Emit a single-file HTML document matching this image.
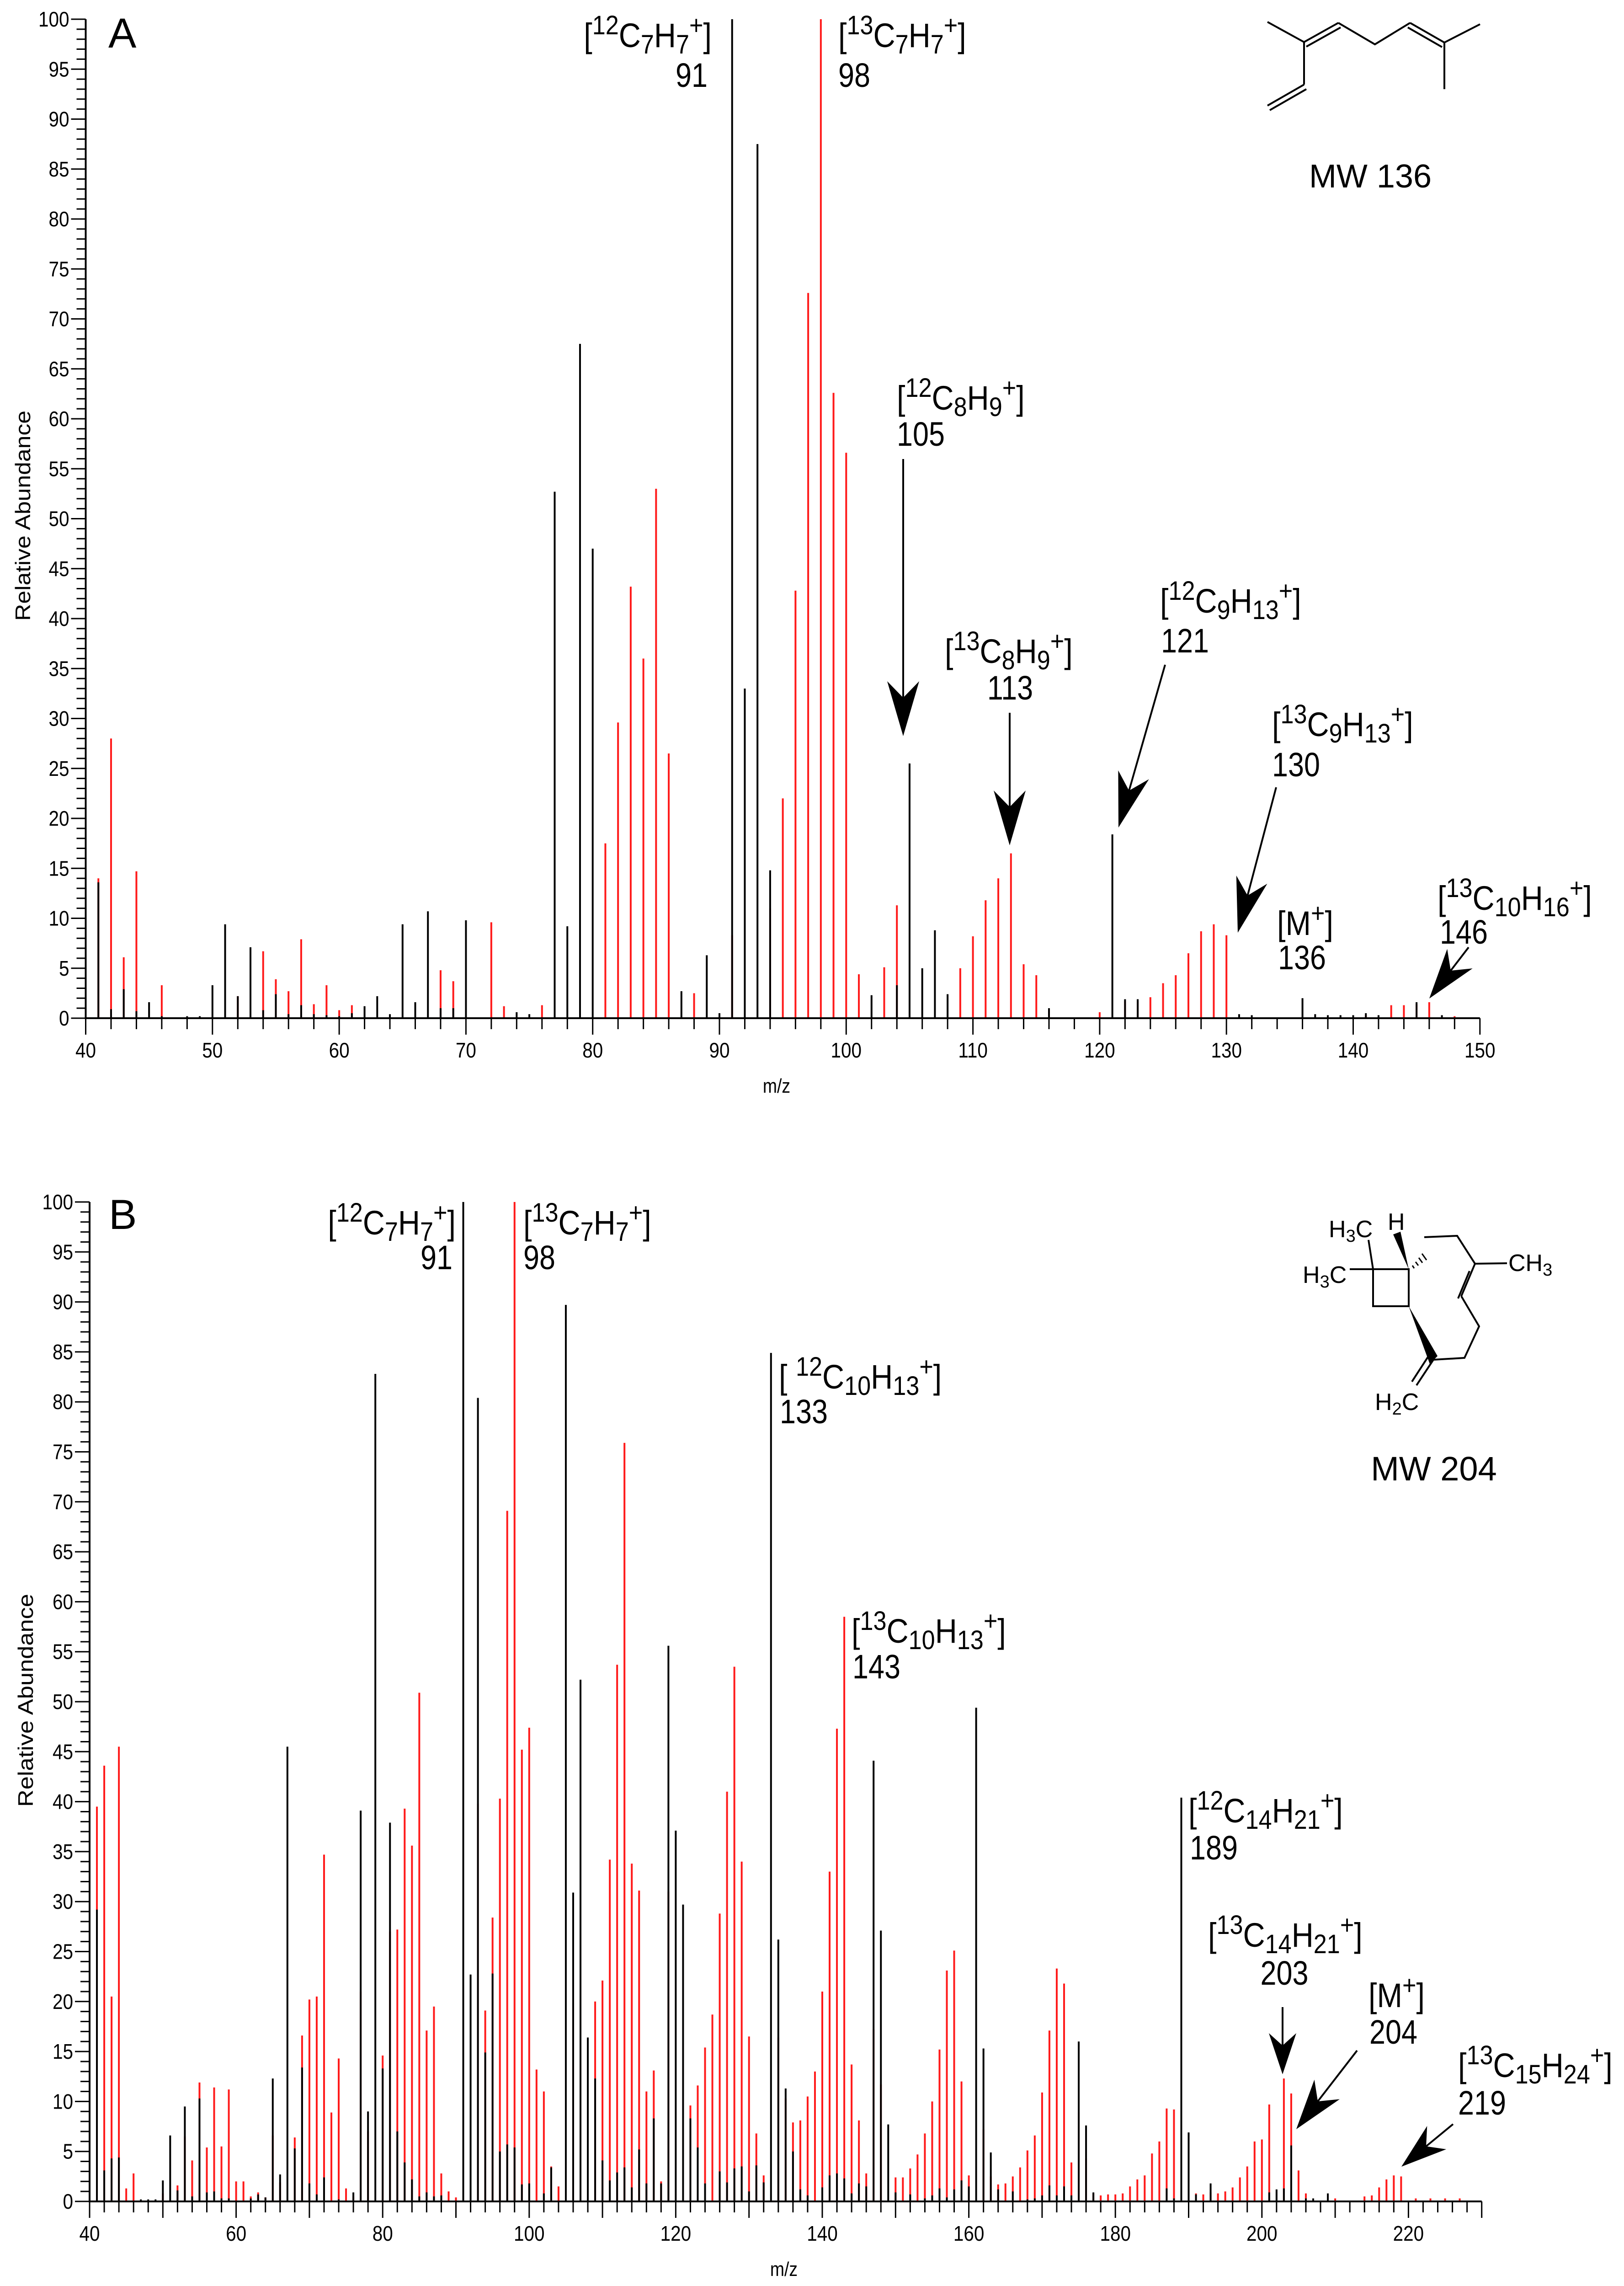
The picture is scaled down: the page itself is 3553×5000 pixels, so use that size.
<!DOCTYPE html>
<html><head><meta charset="utf-8">
<style>
html,body{margin:0;padding:0;background:#fff;}
svg{display:block;}
text{font-family:"Liberation Sans",Arial,sans-serif;fill:#000;}
</style></head>
<body>
<svg id="chart" xmlns="http://www.w3.org/2000/svg" width="3553" height="5000" viewBox="0 0 3553 5000">
<rect x="0" y="0" width="3553" height="5000" fill="#fff"/>
<g id="barsA"></g>
<g id="barsB"></g>
<g id="axes"></g>

<text x="237" y="104" font-size="92">A</text>
<text x="238" y="2688" font-size="92">B</text>

<g font-size="74">
<text transform="translate(1557,103) scale(0.9,1)" text-anchor="end">[<tspan font-size="58" dy="-28">12</tspan><tspan dy="28">C</tspan><tspan font-size="58" dy="14">7</tspan><tspan dy="-14">H</tspan><tspan font-size="58" dy="14">7</tspan><tspan font-size="58" dy="-42">+</tspan><tspan dy="28">]</tspan></text>
<text transform="translate(1548,190) scale(0.85,1)" text-anchor="end">91</text>
<text transform="translate(1834,103) scale(0.9,1)">[<tspan font-size="58" dy="-28">13</tspan><tspan dy="28">C</tspan><tspan font-size="58" dy="14">7</tspan><tspan dy="-14">H</tspan><tspan font-size="58" dy="14">7</tspan><tspan font-size="58" dy="-42">+</tspan><tspan dy="28">]</tspan></text>
<text transform="translate(1834,190) scale(0.85,1)">98</text>
<text transform="translate(1962,896) scale(0.9,1)">[<tspan font-size="58" dy="-28">12</tspan><tspan dy="28">C</tspan><tspan font-size="58" dy="14">8</tspan><tspan dy="-14">H</tspan><tspan font-size="58" dy="14">9</tspan><tspan font-size="58" dy="-42">+</tspan><tspan dy="28">]</tspan></text>
<text transform="translate(1962,975) scale(0.85,1)">105</text>
<text transform="translate(2067,1450) scale(0.9,1)">[<tspan font-size="58" dy="-28">13</tspan><tspan dy="28">C</tspan><tspan font-size="58" dy="14">8</tspan><tspan dy="-14">H</tspan><tspan font-size="58" dy="14">9</tspan><tspan font-size="58" dy="-42">+</tspan><tspan dy="28">]</tspan></text>
<text transform="translate(2210,1530) scale(0.85,1)" text-anchor="middle">113</text>
<text transform="translate(2538,1340) scale(0.9,1)">[<tspan font-size="58" dy="-28">12</tspan><tspan dy="28">C</tspan><tspan font-size="58" dy="14">9</tspan><tspan dy="-14">H</tspan><tspan font-size="58" dy="14">13</tspan><tspan font-size="58" dy="-42">+</tspan><tspan dy="28">]</tspan></text>
<text transform="translate(2540,1427) scale(0.85,1)">121</text>
<text transform="translate(2783,1610) scale(0.9,1)">[<tspan font-size="58" dy="-28">13</tspan><tspan dy="28">C</tspan><tspan font-size="58" dy="14">9</tspan><tspan dy="-14">H</tspan><tspan font-size="58" dy="14">13</tspan><tspan font-size="58" dy="-42">+</tspan><tspan dy="28">]</tspan></text>
<text transform="translate(2783,1698) scale(0.85,1)">130</text>
<text transform="translate(2794,2045) scale(0.9,1)">[M<tspan font-size="58" dy="-28">+</tspan><tspan dy="28">]</tspan></text>
<text transform="translate(2796,2120) scale(0.85,1)">136</text>
<text transform="translate(3145,1990) scale(0.9,1)">[<tspan font-size="58" dy="-28">13</tspan><tspan dy="28">C</tspan><tspan font-size="58" dy="14">10</tspan><tspan dy="-14">H</tspan><tspan font-size="58" dy="14">16</tspan><tspan font-size="58" dy="-42">+</tspan><tspan dy="28">]</tspan></text>
<text transform="translate(3150,2064) scale(0.85,1)">146</text>
<text x="2998" y="410" font-size="72" text-anchor="middle">MW 136</text>
</g>

<g font-size="74">
<text transform="translate(997,2700) scale(0.9,1)" text-anchor="end">[<tspan font-size="58" dy="-28">12</tspan><tspan dy="28">C</tspan><tspan font-size="58" dy="14">7</tspan><tspan dy="-14">H</tspan><tspan font-size="58" dy="14">7</tspan><tspan font-size="58" dy="-42">+</tspan><tspan dy="28">]</tspan></text>
<text transform="translate(990,2776) scale(0.85,1)" text-anchor="end">91</text>
<text transform="translate(1145,2700) scale(0.9,1)">[<tspan font-size="58" dy="-28">13</tspan><tspan dy="28">C</tspan><tspan font-size="58" dy="14">7</tspan><tspan dy="-14">H</tspan><tspan font-size="58" dy="14">7</tspan><tspan font-size="58" dy="-42">+</tspan><tspan dy="28">]</tspan></text>
<text transform="translate(1145,2776) scale(0.85,1)">98</text>
<text transform="translate(1704,3037) scale(0.9,1)">[ <tspan font-size="58" dy="-28">12</tspan><tspan dy="28">C</tspan><tspan font-size="58" dy="14">10</tspan><tspan dy="-14">H</tspan><tspan font-size="58" dy="14">13</tspan><tspan font-size="58" dy="-42">+</tspan><tspan dy="28">]</tspan></text>
<text transform="translate(1706,3113) scale(0.85,1)">133</text>
<text transform="translate(1863,3593) scale(0.9,1)">[<tspan font-size="58" dy="-28">13</tspan><tspan dy="28">C</tspan><tspan font-size="58" dy="14">10</tspan><tspan dy="-14">H</tspan><tspan font-size="58" dy="14">13</tspan><tspan font-size="58" dy="-42">+</tspan><tspan dy="28">]</tspan></text>
<text transform="translate(1865,3671) scale(0.85,1)">143</text>
<text transform="translate(2600,3986) scale(0.9,1)">[<tspan font-size="58" dy="-28">12</tspan><tspan dy="28">C</tspan><tspan font-size="58" dy="14">14</tspan><tspan dy="-14">H</tspan><tspan font-size="58" dy="14">21</tspan><tspan font-size="58" dy="-42">+</tspan><tspan dy="28">]</tspan></text>
<text transform="translate(2603,4067) scale(0.85,1)">189</text>
<text transform="translate(2643,4258) scale(0.9,1)">[<tspan font-size="58" dy="-28">13</tspan><tspan dy="28">C</tspan><tspan font-size="58" dy="14">14</tspan><tspan dy="-14">H</tspan><tspan font-size="58" dy="14">21</tspan><tspan font-size="58" dy="-42">+</tspan><tspan dy="28">]</tspan></text>
<text transform="translate(2810,4341) scale(0.85,1)" text-anchor="middle">203</text>
<text transform="translate(2994,4390) scale(0.9,1)">[M<tspan font-size="58" dy="-28">+</tspan><tspan dy="28">]</tspan></text>
<text transform="translate(2996,4470) scale(0.85,1)">204</text>
<text transform="translate(3190,4543) scale(0.9,1)">[<tspan font-size="58" dy="-28">13</tspan><tspan dy="28">C</tspan><tspan font-size="58" dy="14">15</tspan><tspan dy="-14">H</tspan><tspan font-size="58" dy="14">24</tspan><tspan font-size="58" dy="-42">+</tspan><tspan dy="28">]</tspan></text>
<text transform="translate(3190,4625) scale(0.85,1)">219</text>
<text x="3137" y="3238" font-size="74" text-anchor="middle">MW 204</text>
</g>

<g stroke="#000" stroke-width="4" fill="none">
<polyline points="2773,48 2853,92 2853,185"/>
<line x1="2853" y1="92" x2="2928" y2="50"/>
<line x1="2858" y1="102" x2="2933" y2="60"/>
<polyline points="2928,50 3008,97 3085,50"/>
<line x1="3085" y1="50" x2="3160" y2="93"/>
<line x1="3080" y1="60" x2="3155" y2="103"/>
<polyline points="3160,93 3238,53"/>
<line x1="3160" y1="93" x2="3160" y2="195"/>
<line x1="2853" y1="185" x2="2773" y2="231"/>
<line x1="2858" y1="195" x2="2778" y2="241"/>
</g>

<g>
<g stroke="#000" stroke-width="4" fill="none">
<polygon points="3004,2776 3082,2776 3082,2857 3004,2857"/>
<line x1="2953" y1="2776" x2="3004" y2="2776"/>
<line x1="2994" y1="2712" x2="3004" y2="2776"/>
<polyline points="3116,2706 3188,2703 3227,2764 3297,2763"/>
<line x1="3227" y1="2764" x2="3197" y2="2835"/>
<line x1="3215" y1="2780" x2="3190" y2="2840" />
<polyline points="3197,2835 3236,2901 3204,2970 3136,2974"/>
<line x1="3136" y1="2974" x2="3099" y2="3030"/>
<line x1="3124" y1="2968" x2="3089" y2="3022"/>
</g>
<polygon points="3082,2776 3048,2700 3064,2694" fill="#000"/>
<g stroke="#000" stroke-width="3">
<line x1="3090" y1="2768" x2="3094" y2="2774"/>
<line x1="3097" y1="2760" x2="3103" y2="2768"/>
<line x1="3104" y1="2751" x2="3112" y2="2762"/>
<line x1="3111" y1="2742" x2="3121" y2="2756"/>
</g>
<polygon points="3082,2857 3128,2983 3145,2966" fill="#000"/>
<text x="2907" y="2706" font-size="52">H<tspan font-size="38" dy="10">3</tspan><tspan dy="-10">C</tspan></text>
<text x="3036" y="2690" font-size="52">H</text>
<text x="2850" y="2806" font-size="52">H<tspan font-size="38" dy="10">3</tspan><tspan dy="-10">C</tspan></text>
<text x="3300" y="2780" font-size="52">CH<tspan font-size="38" dy="10">3</tspan></text>
<text x="3008" y="3084" font-size="52">H<tspan font-size="38" dy="10">2</tspan><tspan dy="-10">C</tspan></text>
</g>

<text transform="translate(66,1128) rotate(-90)" font-size="46" text-anchor="middle" textLength="460" lengthAdjust="spacingAndGlyphs">Relative Abundance</text>
<text transform="translate(72,3719) rotate(-90)" font-size="46" text-anchor="middle" textLength="466" lengthAdjust="spacingAndGlyphs">Relative Abundance</text>
<text transform="translate(1699,2390) scale(0.85,1)" font-size="44" text-anchor="middle">m/z</text>
<text transform="translate(1715,4978) scale(0.85,1)" font-size="44" text-anchor="middle">m/z</text>

<g id="arrows"></g>
</svg>

<script>
const aBlackMz  = [40,41,42,43,44,45,46,48,49,50,51,52,53,54,55,56,57,58,59,60,61,62,63,64,65,66,67,68,69,70,74,75,77,78,79,80,87,89,90,91,92,93,94,102,104,105,106,107,108,116,121,122,123,131,132,136,137,138,139,140,141,142,145,147];
const aBlackVal = [0.5,13.6,0.9,2.9,0.7,1.6,0.2,0.2,0.2,3.3,9.4,2.2,7.1,0.8,2.4,0.4,1.3,0.4,0.3,0.2,0.5,1.2,2.2,0.4,9.4,1.6,10.7,1,1,9.8,0.6,0.4,52.7,9.2,67.5,47,2.7,6.3,0.5,100,33,87.5,14.8,2.3,3.3,25.5,5,8.8,2.4,1,18.4,1.9,1.9,0.4,0.3,2,0.4,0.3,0.3,0.3,0.5,0.3,1.6,0.3];
const aRedMz    = [40,41,42,43,44,46,52,54,55,56,57,58,59,60,61,68,69,72,73,76,81,82,83,84,85,86,88,91,94,95,96,97,98,99,100,101,103,104,109,110,111,112,113,114,115,116,120,122,123,124,125,126,127,128,129,130,141,143,144,145,146,148];
const aRedVal   = [1,14,28,6.1,14.7,3.3,2.2,6.7,3.9,2.7,7.9,1.4,3.3,0.8,1.3,4.8,3.7,9.6,1.2,1.3,17.5,29.6,43.2,36,53,26.5,2.5,8.3,11,22,42.8,72.6,100,62.6,56.6,4.4,5.1,11.3,5,8.2,11.8,14,16.5,5.4,4.3,0.8,0.6,1.7,1.7,2.1,3.5,4.3,6.5,8.7,9.4,8.3,0.3,1.3,1.3,1.4,1.6,0.2];
const aXTicks = [40,50,60,70,80,90,100,110,120,130,140,150];
const aYTicks = [0,5,10,15,20,25,30,35,40,45,50,55,60,65,70,75,80,85,90,95,100];

const bBlackMz  = [41,42,43,44,47,48,49,50,51,52,53,54,55,56,57,58,59,62,63,64,65,66,67,68,69,70,71,72,74,76,77,78,79,80,81,82,83,84,85,86,87,88,91,92,93,94,95,96,97,98,99,100,102,103,105,106,107,108,109,110,111,112,113,114,115,116,117,118,119,120,121,122,123,124,126,127,128,129,130,131,132,133,134,135,136,137,138,140,141,142,143,144,145,146,147,148,149,150,152,154,155,156,157,158,159,160,161,162,163,164,166,168,169,170,171,172,173,174,175,176,177,187,188,189,190,191,193,201,202,203,204,206,207,209];
const bBlackVal = [29.2,3.1,4.3,4.4,0.2,0.2,0.2,2.1,6.6,1.1,9.5,0.5,10.3,0.9,1.0,0.3,0.3,0.3,0.7,0.4,12.3,2.7,45.5,5.3,13.4,1.8,0.7,2.4,0.2,0.9,39.1,9.0,82.8,13.3,37.9,7,3.9,2.2,0.5,0.9,0.5,0.6,100,22.7,80.4,14.9,22.8,5,5.7,5.4,1.7,1.8,0.8,3.4,89.7,30.9,52.2,16.4,12.3,4.1,2.1,2.9,3.4,1.4,5.2,1.8,8.3,1.8,55.6,37.1,29.7,8.3,5.4,1.8,3.0,1.9,3.3,3.5,1,3.6,1.9,84.9,26.2,11.3,5,1.2,0.6,1.4,2.6,2.8,2.3,0.8,1.8,1.5,44.1,27.1,7.7,0.9,0.7,0.3,0.6,1.3,0.4,1.2,2.1,1.5,49.4,15.3,4.9,1.2,1,0.2,0.3,0.6,1.6,0.6,1.5,0.6,16,7.6,0.9,1.3,0.3,40.4,6.9,0.7,1.8,0.9,1.2,1.3,5.6,0.3,0.3,0.8];
const bRedMz    = [41,42,43,44,45,46,50,52,53,54,55,56,57,58,59,60,61,62,63,64,65,66,68,69,70,71,72,73,74,75,76,77,78,80,81,82,83,84,85,86,87,88,89,90,93,94,95,96,97,98,99,100,101,102,103,104,106,107,109,110,111,112,113,114,115,116,117,118,119,122,123,124,125,126,127,128,129,130,131,132,134,135,136,137,138,139,140,141,142,143,144,145,146,147,148,150,151,152,153,154,155,156,157,158,159,160,162,163,164,165,166,167,168,169,170,171,172,173,174,175,176,177,178,179,180,181,182,183,184,185,186,187,188,190,191,192,193,194,195,196,197,198,199,200,201,203,204,205,206,210,214,215,216,217,218,219,221,223,225,227];
const bRedVal   = [39.5,43.6,20.5,45.5,1.3,2.8,0.8,1.6,6.5,4.1,11.9,5.4,11.4,5.5,11.2,2.0,2.0,0.5,0.9,0.4,6.6,1.9,6.4,16.6,20.2,20.5,34.7,8.9,14.3,1.3,0.5,21,7,14.6,27,27.2,39.3,35.6,50.9,17.1,19.5,2.8,1.0,0.4,39.8,19.1,28.4,40.3,69.1,100,45.2,47.4,13.2,11.0,3.5,1.5,19.8,26.8,20,22.1,34.2,53.7,75.9,33.8,31.1,11,13.1,2.0,31,9.6,11.6,15.4,18.7,28.8,41,53.5,34,16.5,6.8,2.6,16.4,10.3,7.9,8.1,10.5,13,21,33,47.3,58.5,13.7,8.1,2.8,17.2,11.7,2.4,2.4,3.3,4.7,6.8,10,15.2,23.1,25.1,12,2.6,7.2,2.5,1.7,1.8,2.5,3.4,5.1,6.6,10.9,17.1,23.3,21.8,3.9,8.9,4.3,0.8,0.6,0.7,0.7,0.8,1.5,2.2,2.6,4.8,6.0,9.3,9.2,3.0,0.8,0.7,0.9,0.8,1.0,1.4,2.4,3.5,6.0,6.2,9.7,12.3,10.8,3.1,0.8,0.3,0.5,0.6,1.4,2.2,2.6,2.5,0.3,0.3,0.3,0.3];
const bXTicks = [40,60,80,100,120,140,160,180,200,220];
const bYTicks = [0,5,10,15,20,25,30,35,40,45,50,55,60,65,70,75,80,85,90,95,100];

const A = {x0:187.5, ux:27.73, y0:2227, uy:21.85, xmin:40, xmax:150};
const B = {x0:196, ux:16.03, y0:4815, uy:21.86, xmin:40, xmax:230};
function xA(m){ return A.x0 + (m - 40) * A.ux; }
function yA(v){ return A.y0 - v * A.uy; }
function xB(m){ return B.x0 + (m - 40) * B.ux; }
function yB(v){ return B.y0 - v * B.uy; }

const NS = "http://www.w3.org/2000/svg";
function mk(tag, parent){ const e = document.createElementNS(NS, tag); parent.appendChild(e); return e; }

function drawBars(g, mzs, vals, xf, yf, color, name){
  for (let i = 0; i < mzs.length; i++){
    const l = mk('line', g);
    
    
    l.setAttribute('x1', xf(mzs[i])); l.setAttribute('x2', xf(mzs[i]));
    l.setAttribute('y1', yf(0)); l.setAttribute('y2', yf(vals[i]));
    l.setAttribute('stroke', color); l.setAttribute('stroke-width', '4');
  }
}
const gA = document.getElementById('barsA');
const gB = document.getElementById('barsB');
drawBars(gA, aRedMz, aRedVal, xA, yA, '#ff1a1a', 'bar-a-labeled');
drawBars(gA, aBlackMz, aBlackVal, xA, yA, '#000', 'bar-a-unlabeled');
drawBars(gB, bRedMz, bRedVal, xB, yB, '#ff1a1a', 'bar-b-labeled');
drawBars(gB, bBlackMz, bBlackVal, xB, yB, '#000', 'bar-b-unlabeled');

function drawAxes(P, xf, yf, xLabels, yLabels, majorStep, pref){
  const g = document.getElementById('axes');
  const ax = xf(P.xmin), ay = yf(0);
  let l = mk('line', g);
  
  
  l.setAttribute('x1', ax); l.setAttribute('x2', ax); l.setAttribute('y1', ay + 2); l.setAttribute('y2', yf(100));
  l.setAttribute('stroke', '#000'); l.setAttribute('stroke-width', '4');
  l = mk('line', g);
  
  
  l.setAttribute('x1', ax); l.setAttribute('x2', xf(P.xmax)); l.setAttribute('y1', ay); l.setAttribute('y2', ay);
  l.setAttribute('stroke', '#000'); l.setAttribute('stroke-width', '4');
  for (let v = 0; v <= 100; v++){
    const t = mk('line', g);
    
    
    const len = (v % 5 === 0) ? 32 : 20;
    t.setAttribute('x1', ax - len); t.setAttribute('x2', ax); t.setAttribute('y1', yf(v)); t.setAttribute('y2', yf(v));
    t.setAttribute('stroke', '#000'); t.setAttribute('stroke-width', '3');
  }
  for (let m = P.xmin; m <= P.xmax; m += 2){
    const t = mk('line', g);
    
    
    const len = (m % majorStep === 0) ? 36 : 24;
    t.setAttribute('x1', xf(m)); t.setAttribute('x2', xf(m)); t.setAttribute('y1', ay); t.setAttribute('y2', ay + len);
    t.setAttribute('stroke', '#000'); t.setAttribute('stroke-width', '3');
  }
  yLabels.forEach(v => {
    const tx = mk('text', g);
    
    
    tx.setAttribute('transform', 'translate(' + (ax - 36) + ',' + (yf(v) + 16) + ') scale(0.88,1)');
    tx.setAttribute('text-anchor', 'end'); tx.setAttribute('font-size', '46');
    tx.textContent = v;
  });
  xLabels.forEach(m => {
    const tx = mk('text', g);
    
    
    tx.setAttribute('transform', 'translate(' + xf(m) + ',' + (ay + 86) + ') scale(0.88,1)');
    tx.setAttribute('text-anchor', 'middle'); tx.setAttribute('font-size', '46');
    tx.textContent = m;
  });
}
drawAxes(A, xA, yA, aXTicks, aYTicks, 10, 'a');
drawAxes(B, xB, yB, bXTicks, bYTicks, 10, 'b');

function arrow(x1, y1, x2, y2, hl, hw){
  const g = document.getElementById('arrows');
  const dx = x2 - x1, dy = y2 - y1, L = Math.hypot(dx, dy), ux = dx / L, uy = dy / L;
  const nx = -uy, ny = ux;
  const bx = x2 - ux * hl, by = y2 - uy * hl;
  const kx = x2 - ux * hl * 0.7, ky = y2 - uy * hl * 0.7;
  const l = mk('line', g);
  
  
  l.setAttribute('x1', x1); l.setAttribute('y1', y1); l.setAttribute('x2', kx); l.setAttribute('y2', ky);
  l.setAttribute('stroke', '#000'); l.setAttribute('stroke-width', '4');
  const p = mk('polygon', g);
  
  
  p.setAttribute('points', [x2, y2, bx + nx * hw / 2, by + ny * hw / 2, kx, ky, bx - nx * hw / 2, by - ny * hw / 2].join(','));
  p.setAttribute('fill', '#000');
}
arrow(1976, 1004, 1976, 1610, 120, 70);
arrow(2209, 1559, 2209, 1849, 120, 70);
arrow(2549, 1454, 2447, 1810, 120, 70);
arrow(2792, 1722, 2708, 2040, 120, 70);
arrow(3213, 2072, 3127, 2184, 110, 70);
arrow(2806, 4390, 2806, 4537, 90, 60);
arrow(2969, 4485, 2836, 4657, 110, 70);
arrow(3179, 4646, 3066, 4739, 100, 66);
</script>
</body></html>
